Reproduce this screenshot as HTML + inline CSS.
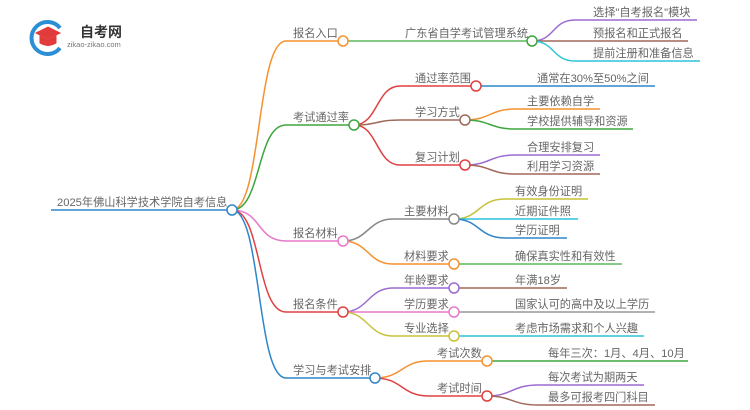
<!DOCTYPE html>
<html><head><meta charset="utf-8"><style>
html,body{margin:0;padding:0;background:#fff;}
svg{display:block;}
text{font-family:"Liberation Sans","Noto Sans CJK SC",sans-serif;font-size:11.2px;fill:#666;}
</style></head><body>
<svg width="750" height="410" viewBox="0 0 750 410" xmlns="http://www.w3.org/2000/svg">
<g fill="none" stroke-width="1.5">
<!-- logo -->
<path d="M60,28 A16,16 0 1,0 60,48" stroke="#2a8fd6" stroke-width="4"/>
<path d="M36,33 L48,27 L60,33 L48,39 Z" fill="#e23b3b" stroke="#e23b3b" stroke-width="1"/>
<path d="M40,36 L40,43 Q48,48 56,43 L56,36 L48,40 Z" fill="#e23b3b" stroke="#e23b3b" stroke-width="1"/>
<!-- root -->
<path d="M51,210 L232,210" stroke="#2f86c8"/>
<path d="M232,210 C262,210 256,41 286,41 L343,41" stroke="#f5912e"/>
<path d="M232,210 C262,210 256,125 286,125 L354,125" stroke="#3ea63e"/>
<path d="M232,210 C262,210 256,241 286,241 L343,241" stroke="#e879c8"/>
<path d="M232,210 C262,210 256,312 286,312 L343,312" stroke="#e04040"/>
<path d="M232,210 C262,210 256,378 286,378 L375,378" stroke="#2f86c8"/>
<!-- L2 -->
<path d="M343,41 L532,41" stroke="#5cb85c"/>
<path d="M532,41 C555,41 552,20 575,20 L697,20" stroke="#9b6bd0"/>
<path d="M532,41 L688,41" stroke="#a0695a"/>
<path d="M532,41 C555,41 552,61 575,61 L700,61" stroke="#2ec4d8"/>
<path d="M354,125 C378,125 376,86 400,86 L476,86" stroke="#e04040"/>
<path d="M476,86 L655,86" stroke="#2f86c8"/>
<path d="M354,125 C378,125 376,120 400,120 L465,120" stroke="#a0695a"/>
<path d="M465,120 C490,120 490,109 515,109 L600,109" stroke="#f5912e"/>
<path d="M465,120 C490,120 490,129 515,129 L633,129" stroke="#3ea63e"/>
<path d="M354,125 C378,125 376,165 400,165 L465,165" stroke="#e04040"/>
<path d="M465,165 C490,165 490,155 515,155 L600,155" stroke="#9b6bd0"/>
<path d="M465,165 C490,165 490,174 515,174 L600,174" stroke="#a0695a"/>
<path d="M343,241 C368,241 368,219 393,219 L454,219" stroke="#888"/>
<path d="M454,219 C480,219 478,199 505,199 L588,199" stroke="#c6c23a"/>
<path d="M454,219 L578,219" stroke="#2ec4d8"/>
<path d="M454,219 C480,219 478,238 505,238 L567,238" stroke="#2f86c8"/>
<path d="M343,241 C368,241 368,264 393,264 L454,264" stroke="#f5912e"/>
<path d="M454,264 L622,264" stroke="#5cb85c"/>
<path d="M343,312 C368,312 368,288 393,288 L454,288" stroke="#9b6bd0"/>
<path d="M454,288 L567,288" stroke="#a0695a"/>
<path d="M343,312 L454,312" stroke="#e879c8"/>
<path d="M454,312 L655,312" stroke="#999"/>
<path d="M343,312 C368,312 368,336 393,336 L454,336" stroke="#c6c23a"/>
<path d="M454,336 L644,336" stroke="#2ec4d8"/>
<path d="M375,378 C402,378 402,361 428,361 L487,361" stroke="#f5912e"/>
<path d="M487,361 L688,361" stroke="#3ea63e"/>
<path d="M375,378 C402,378 402,396 428,396 L487,396" stroke="#e04040"/>
<path d="M487,396 C512,396 512,385 538,385 L644,385" stroke="#9b6bd0"/>
<path d="M487,396 C512,396 512,405 538,405 L655,405" stroke="#a0695a"/>
</g>
<g fill="#fff" stroke-width="1.5">
<circle cx="232" cy="210" r="5" stroke="#2f86c8"/>
<circle cx="343" cy="41" r="5" stroke="#f5912e"/>
<circle cx="354" cy="125" r="5" stroke="#3ea63e"/>
<circle cx="343" cy="241" r="5" stroke="#e879c8"/>
<circle cx="343" cy="312" r="5" stroke="#e04040"/>
<circle cx="375" cy="378" r="5" stroke="#2f86c8"/>
<circle cx="532" cy="41" r="5" stroke="#3ea63e"/>
<circle cx="476" cy="86" r="5" stroke="#e04040"/>
<circle cx="465" cy="120" r="5" stroke="#a0695a"/>
<circle cx="465" cy="165" r="5" stroke="#e04040"/>
<circle cx="454" cy="219" r="5" stroke="#888"/>
<circle cx="454" cy="264" r="5" stroke="#f5912e"/>
<circle cx="454" cy="288" r="5" stroke="#9b6bd0"/>
<circle cx="454" cy="312" r="5" stroke="#e879c8"/>
<circle cx="454" cy="336" r="5" stroke="#c6c23a"/>
<circle cx="487" cy="361" r="5" stroke="#f5912e"/>
<circle cx="487" cy="396" r="5" stroke="#e04040"/>
</g>
<text x="80" y="37" style="font-size:14px;font-weight:bold;fill:#333">自考网</text>
<text x="67" y="47" style="font-size:7.5px;fill:#777">zikao-zikao.com</text>
<text x="57" y="206">2025年佛山科学技术学院自考信息</text>
<text x="293" y="37">报名入口</text>
<text x="293" y="121">考试通过率</text>
<text x="293" y="237">报名材料</text>
<text x="293" y="308">报名条件</text>
<text x="293" y="374">学习与考试安排</text>
<text x="405" y="37">广东省自学考试管理系统</text>
<text x="415" y="82">通过率范围</text>
<text x="415" y="116">学习方式</text>
<text x="415" y="161">复习计划</text>
<text x="404" y="215">主要材料</text>
<text x="404" y="260">材料要求</text>
<text x="404" y="284">年龄要求</text>
<text x="404" y="308">学历要求</text>
<text x="404" y="332">专业选择</text>
<text x="437" y="357">考试次数</text>
<text x="437" y="392">考试时间</text>
<text x="593" y="16">选择"自考报名"模块</text>
<text x="593" y="37">预报名和正式报名</text>
<text x="593" y="57">提前注册和准备信息</text>
<text x="537" y="82">通常在30%至50%之间</text>
<text x="527" y="105">主要依赖自学</text>
<text x="527" y="125">学校提供辅导和资源</text>
<text x="527" y="151">合理安排复习</text>
<text x="527" y="170">利用学习资源</text>
<text x="515" y="195">有效身份证明</text>
<text x="515" y="215">近期证件照</text>
<text x="515" y="234">学历证明</text>
<text x="515" y="260">确保真实性和有效性</text>
<text x="515" y="284">年满18岁</text>
<text x="515" y="308">国家认可的高中及以上学历</text>
<text x="515" y="332">考虑市场需求和个人兴趣</text>
<text x="548" y="357">每年三次：1月、4月、10月</text>
<text x="548" y="381">每次考试为期两天</text>
<text x="548" y="401">最多可报考四门科目</text>
</svg>
</body></html>
